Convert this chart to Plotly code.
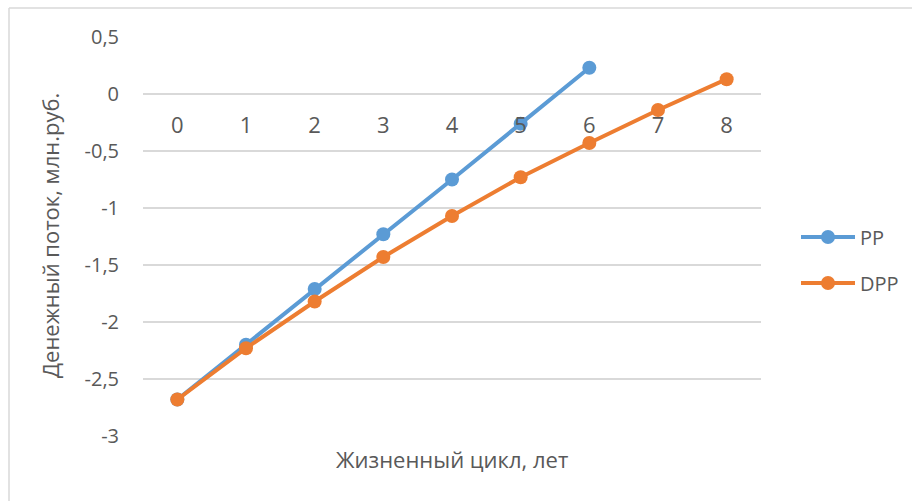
import plotly.graph_objects as go

# Life cycle years and cumulative cash flow (mln rub.)
years = [0, 1, 2, 3, 4, 5, 6, 7, 8]
pp_years = [0, 1, 2, 3, 4, 5, 6]
pp_values = [-2.68, -2.20, -1.71, -1.23, -0.75, -0.26, 0.23]
dpp_values = [-2.68, -2.23, -1.82, -1.43, -1.07, -0.73, -0.43, -0.14, 0.13]

y_ticks = [-3, -2.5, -2, -1.5, -1, -0.5, 0, 0.5]
y_tick_text = ["-3", "-2,5", "-2", "-1,5", "-1", "-0,5", "0", "0,5"]

series_names = ["PP", "DPP"]

BLUE = "#5B9BD5"
ORANGE = "#ED7D31"
TEXT = "#595959"
GRID = "#D9D9D9"
FONT = "Open Sans"

# plot area geometry in pixels
W, H = 912, 501
L, R, T, B = 143, 151, 37, 65
PW, PH = W - L - R, H - T - B


def px_x(px):
    return (px - L) / PW


def px_y(py):
    return (H - B - py) / PH


fig = go.Figure()
fig.add_trace(go.Scatter(
    x=pp_years, y=pp_values, name=series_names[0], mode="lines+markers",
    line=dict(color=BLUE, width=4), marker=dict(size=14, color=BLUE),
))
fig.add_trace(go.Scatter(
    x=years, y=dpp_values, name=series_names[1], mode="lines+markers",
    line=dict(color=ORANGE, width=4), marker=dict(size=14, color=ORANGE),
))

# legend drawn at the right: line sample with a dot, then the series name
shapes = []
annotations = []
for name, color, ly in [(series_names[0], BLUE, 237), (series_names[1], ORANGE, 283)]:
    shapes.append(dict(type="line", xref="paper", yref="paper",
                       x0=px_x(801), x1=px_x(855), y0=px_y(ly), y1=px_y(ly),
                       line=dict(color=color, width=4)))
    shapes.append(dict(type="circle", xref="paper", yref="paper",
                       x0=px_x(828 - 7), x1=px_x(828 + 7),
                       y0=px_y(ly + 7), y1=px_y(ly - 7),
                       fillcolor=color, line=dict(color=color, width=0)))
    annotations.append(dict(text=name, xref="paper", yref="paper",
                            x=px_x(858), y=px_y(ly), xanchor="left",
                            yanchor="middle", showarrow=False,
                            font=dict(size=20, color=TEXT)))

annotations += [
    dict(text="Жизненный цикл, лет", xref="paper", yref="paper",
         x=px_x(452), y=px_y(459), yanchor="middle", showarrow=False,
         font=dict(size=22, color=TEXT)),
    dict(text="Денежный поток, млн.руб.", xref="paper", yref="paper",
         x=px_x(50), y=px_y(236), xanchor="center", yanchor="middle",
         textangle=-90, showarrow=False,
         font=dict(size=22, color=TEXT)),
]

# chart frame edges (top and left)
shapes += [
    dict(type="line", xref="paper", yref="paper",
         x0=px_x(9), x1=px_x(W), y0=px_y(8), y1=px_y(8),
         line=dict(color=GRID, width=1.5)),
    dict(type="line", xref="paper", yref="paper",
         x0=px_x(9), x1=px_x(9), y0=px_y(8), y1=px_y(H),
         line=dict(color=GRID, width=1.5)),
]

y_min, y_max = -3, 0.5
fig.update_layout(
    width=W, height=H,
    margin=dict(l=L, r=R, t=T, b=B),
    paper_bgcolor="white", plot_bgcolor="white",
    font=dict(family=FONT, color=TEXT, size=20),
    xaxis=dict(
        range=[-0.5, 8.5], tickvals=years, ticktext=[str(v) for v in years],
        showgrid=False, zeroline=False, showline=False, ticks="",
        anchor="free", position=(0 - y_min) / (y_max - y_min),
        tickfont=dict(size=22, color=TEXT), ticklabelstandoff=16,
    ),
    yaxis=dict(
        range=[y_min, y_max], tickvals=y_ticks, ticktext=y_tick_text,
        showgrid=True, gridcolor=GRID, gridwidth=1.5, zeroline=False,
        showline=False, ticks="", tickfont=dict(size=20, color=TEXT),
        ticklabelstandoff=23,
    ),
    showlegend=False,
    annotations=annotations,
    shapes=shapes,
)

fig.write_html("out.html")
